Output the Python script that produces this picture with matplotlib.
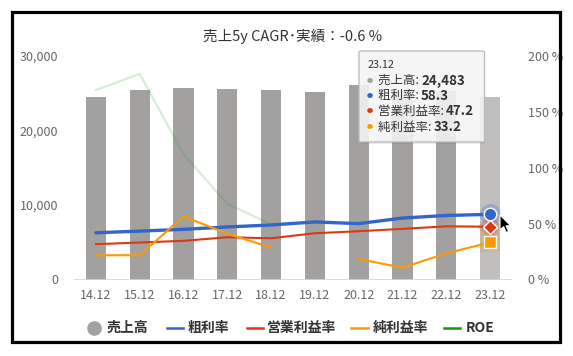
import numpy as np
import matplotlib
matplotlib.use("Agg")
import matplotlib.pyplot as plt
from matplotlib.lines import Line2D
from matplotlib.patches import Rectangle, FancyBboxPatch, Polygon

plt.rcParams['font.family'] = ['Noto Sans CJK JP', 'DejaVu Sans']

# ---- data ----
periods = ["14.12", "15.12", "16.12", "17.12", "18.12", "19.12", "20.12", "21.12", "22.12", "23.12"]
sales = [24550, 25450, 25750, 25560, 25430, 25150, 26100, 25350, 25300, 24483]
gross_margin = [41.8, 43.3, 44.9, 47.0, 48.8, 51.5, 50.0, 55.0, 57.3, 58.3]
op_margin = [31.6, 33.1, 34.6, 37.8, 36.9, 41.4, 43.2, 45.3, 47.6, 47.2]
net_margin = [21.7, 21.7, 56.5, 41.0, 28.5, np.nan, 18.3, 10.6, 23.4, 33.2]
roe = [169.5, 184.0, 112.3, 67.6, 49.5, np.nan, np.nan, np.nan, np.nan, np.nan]
title = "売上5y CAGR･実績：-0.6 %"
left_ticks = [0, 10000, 20000, 30000]
right_ticks = [0, 50, 100, 150, 200]
legend_labels = ["売上高", "粗利率", "営業利益率", "純利益率", "ROE"]

W, H = 573, 356
fig = plt.figure(figsize=(W / 100, H / 100), dpi=100)

def fx(px):
    return px / W

def fy(py):
    return 1 - py / H

ax = fig.add_axes([fx(74), fy(279.5), fx(512) - fx(74), fy(56) - fy(279.5)])
ax2 = ax.twinx()

c_bar = "#a3a19f"
c_bar_hl = "#c0bfbe"
c_blue = "#3366cc"
c_red = "#dc3912"
c_orange = "#ff9900"
c_green = "#109618"
c_tick = "#666666"

x = np.arange(len(periods))
bar_colors = [c_bar] * (len(periods) - 1) + [c_bar_hl]
ax.bar(x, sales, width=0.46, color=bar_colors, zorder=2)
ax.set_xlim(-0.5, len(periods) - 0.5)
ax.set_ylim(0, 30000)
ax.set_yticks(left_ticks)
ax.set_yticklabels([f"{v:,}" for v in left_ticks])
ax.set_xticks(x)
ax.set_xticklabels(periods)

ax2.set_ylim(0, 200)
ax2.set_yticks(right_ticks)
ax2.set_yticklabels([f"{v} %" for v in right_ticks])

for a in (ax, ax2):
    for s in a.spines.values():
        s.set_visible(False)
    a.tick_params(length=0, labelsize=9, colors=c_tick)
ax.tick_params(axis='y', pad=11.5)
ax2.tick_params(axis='y', pad=11.5)
ax.tick_params(axis='x', pad=7)
ax.axhline(0, color="#ccd6eb", lw=1.2, zorder=3)

ax2.plot(x, roe, color=c_green, lw=1.6, alpha=0.17, zorder=3)
ax2.plot(x, gross_margin, color=c_blue, lw=2.4, zorder=5, solid_capstyle='round')
ax2.plot(x, op_margin, color=c_red, lw=1.5, zorder=5)
ax2.plot(x, net_margin, color=c_orange, lw=1.5, zorder=5)

# hover markers on last point
i = len(periods) - 1
for vals, col, mk, ms in [(gross_margin, c_blue, 'o', 9), (op_margin, c_red, 'D', 7.5), (net_margin, c_orange, 's', 9)]:
    ax2.plot([x[i]], [vals[i]], marker=mk, ms=ms + 6, color=col, alpha=0.25, mew=0, ls='none', zorder=6)
    ax2.plot([x[i]], [vals[i]], marker=mk, ms=ms, mfc=col, mec='white', mew=1, ls='none', zorder=7)

fig.text(fx(293), fy(37), title, ha='center', va='center', fontsize=10.5, color="#333333")

# ---- tooltip ----
fig.patches.append(FancyBboxPatch((fx(361), fy(144)), fx(484.5) - fx(361), fy(53) - fy(144),
                                  boxstyle="round,pad=0,rounding_size=0.004", transform=fig.transFigure,
                                  fc="#000000", ec="none", alpha=0.08, zorder=20))
fig.patches.append(FancyBboxPatch((fx(359), fy(142)), fx(484.5) - fx(359), fy(51) - fy(142),
                                  boxstyle="round,pad=0,rounding_size=0.004", transform=fig.transFigure,
                                  fc="#f7f7f7", ec="#b8b8b8", lw=1, alpha=0.88, zorder=21))
fig.text(fx(367.5), fy(65), periods[i], fontsize=7.8, color="#333333", va='center', zorder=22)
tip_rows = [("売上高", f"{sales[i]:,}", "#a3a19f", 80.7),
            ("粗利率", f"{gross_margin[i]:.1f}", c_blue, 95.5),
            ("営業利益率", f"{op_margin[i]:.1f}", c_red, 111),
            ("純利益率", f"{net_margin[i]:.1f}", c_orange, 127)]
renderer = fig.canvas.get_renderer()
for lab, val, col, yy in tip_rows:
    fig.text(fx(369.5), fy(yy), "●", fontsize=4.5, color=col, ha='center', va='center', zorder=22)
    t = fig.text(fx(377.5), fy(yy), lab + ": ", fontsize=9, color="#333333", va='center', zorder=22)
    bb = t.get_window_extent(renderer=renderer)
    fig.text(bb.x1 / W, fy(yy), val, fontsize=9.6, fontweight='bold', color="#333333", va='center', zorder=22)

# ---- mouse pointer ----
px, py = 500, 215
ptr = [(0, 0), (0, 15), (3.6, 11.6), (6.2, 17.5), (8.6, 16.4), (6.0, 10.8), (10.8, 10.8)]
fig.patches.append(Polygon([(fx(px + dx), fy(py + dy)) for dx, dy in ptr], closed=True,
                           transform=fig.transFigure, fc="black", ec="white", lw=0.8, zorder=25))

# ---- legend ----
ly = fy(327.5)
fig.add_artist(Line2D([fx(94)], [ly], marker='o', ms=9.5, color=c_bar, ls='none'))
fig.text(fx(107), ly, legend_labels[0], fontsize=10, fontweight='bold', color="#333333", va='center')
for (x0, x1, tx, col, lab) in [(167, 183, 188, c_blue, legend_labels[1]),
                                (247, 263, 267, c_red, legend_labels[2]),
                                (351, 368, 373, c_orange, legend_labels[3]),
                                (444, 460, 466, c_green, legend_labels[4])]:
    fig.add_artist(Line2D([fx(x0), fx(x1)], [ly, ly], color=col, lw=1.8))
    fig.text(fx(tx), ly, lab, fontsize=10, fontweight='bold', color="#333333", va='center')

# ---- outer frame ----
fig.patches.append(Rectangle((fx(11.5), fy(342.3)), fx(559.5) - fx(11.5), fy(11.5) - fy(342.3),
                             transform=fig.transFigure, fill=False, ec="black", lw=2.3, zorder=30))

fig.savefig("out.png", dpi=100, facecolor="white")
